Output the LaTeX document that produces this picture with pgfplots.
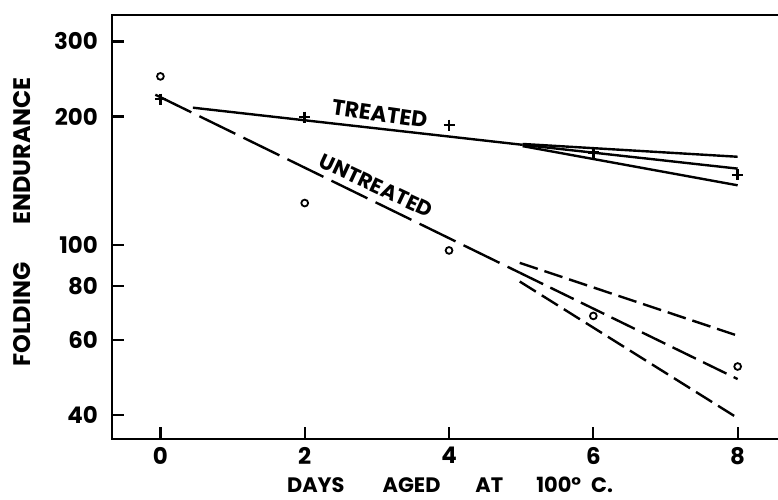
\documentclass[border=0pt]{standalone}
\usepackage{fontspec}
\setmainfont{Poppins}
\usepackage{pgfplots}
\pgfplotsset{compat=1.18}
\begin{document}
\begin{tikzpicture}
\useasboundingbox (-112bp,-61bp) rectangle (666bp,439bp);
\begin{axis}[
  scale only axis, width=666bp, height=424bp,
  clip=false,
  xmin=-0.671, xmax=8.559,
  ymode=log, ymin=35.1, ymax=346,
  axis line style={draw=none},
  xtick={0,2,4,6,8},
  ytick={40,60,80,100,200,300},
  yticklabels={40,60,80,100,200,300},
  minor ytick={},
  log ticks with fixed point,
  xtick pos=bottom, ytick pos=left,
  tick align=inside,
  major tick length=12.5bp,
  tick style={black, line width=2.2bp},
  /pgf/number format/assume math mode=true,
  ticklabel style={font=\fontsize{23}{24}\selectfont\bfseries},
  yticklabel style={inner sep=0pt, anchor=east, xshift=-14bp},
  xticklabel style={inner sep=0pt, anchor=north, yshift=-8bp},
]
% frame: left, top and bottom only
\draw[line width=2.6bp, line cap=rect] (rel axis cs:1,1) -- (rel axis cs:0,1) -- (rel axis cs:0,0) -- (rel axis cs:1,0);

% untreated: fitted line and spread
\addplot[line width=2.4bp, dash pattern=on 40bp off 9bp] coordinates {(-0.07,225) (4.98,86.1)};
\addplot[line width=2.4bp, dash pattern=on 26bp off 8bp] coordinates {(4.98,86.1) (8,48.5)};
\addplot[line width=2.4bp, dash pattern=on 19bp off 7bp] coordinates {(4.98,90.8) (8,61.3)};
\addplot[line width=2.4bp, dash pattern=on 19bp off 7bp] coordinates {(4.98,82.1) (8,39.3)};

% treated: fitted line and spread
\addplot[line width=2.4bp] coordinates {(0.45,209.8) (5.02,171.7)};
\addplot[line width=2.4bp] coordinates {(5.02,172.5) (8,161)};
\addplot[line width=2.4bp] coordinates {(5.02,171.7) (8,151)};
\addplot[line width=2.4bp] coordinates {(5.02,170.5) (8,138)};

% measured points
\addplot[only marks, mark=o, mark size=3.4bp, mark options={line width=1.8bp}]
  coordinates {(0,248.4) (2,125.4) (4,97.1) (6,68.2) (8,51.9)};
\addplot[only marks, mark=+, mark size=5.5bp, mark options={line width=2.6bp}]
  coordinates {(0,219.8) (2,199.4) (4,191) (6,164.7) (8,146)};

% curve names, set on their lines
\node[rotate=-8, font=\fontsize{22}{22}\selectfont\bfseries] at (axis cs:3.04,203) {TREATED};
\node[rotate=-25, font=\fontsize{21}{21}\selectfont\bfseries] at (axis cs:2.99,137.5) {UNTREATED};

\node[rotate=90, font=\fontsize{24}{24}\selectfont\bfseries] at (rel axis cs:-0.135,0.512) {FOLDING\hspace{38bp}ENDURANCE};
\node[font=\fontsize{21}{21}\selectfont\bfseries] at (rel axis cs:0.5075,-0.108) {DAYS\hspace{38bp}AGED\hspace{35bp}AT\hspace{33bp}100°\hspace{10bp}C.};
\end{axis}
\end{tikzpicture}
\end{document}
